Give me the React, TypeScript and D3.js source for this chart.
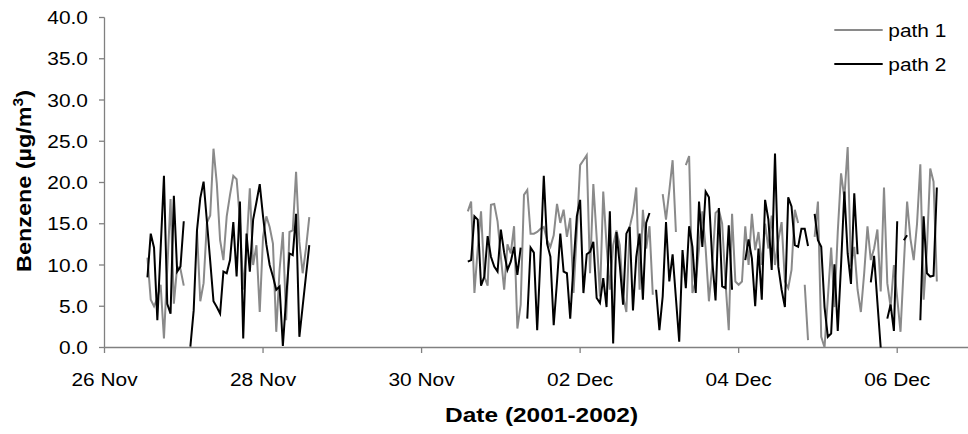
import React from "react";
import * as d3 from "d3";

// ---- data (hourly benzene concentrations, µg/m3) ----
const block1Start = new Date(2001, 10, 26, 13); // 26 Nov 13:00
const block2Start = new Date(2001, 10, 30, 14); // 30 Nov 14:00

const path1Block1: (number | null)[] = [
  10.9, 5.8, 5.0, 6.0, 7.6, 1.1, 9.5, 18.0, 5.3, 9.8,
  9.5, 7.5, null, null, null, 14.2, 5.6, 7.8, 15.1, 16.0,
  24.1, 19.9, 13.0, 10.6, 15.9, 18.5, 20.8, 20.4, 15.5, 7.0,
  12.2, 19.3, 10.0, 12.4, 4.3, 13.4, 15.9, 14.6, 12.6, 1.9,
  9.4, 14.0, 3.3, 14.0, 14.2, 21.3, 12.8, 9.0, 12.0, 15.8,
];

const path2Block1: (number | null)[] = [
  8.5, 13.8, 12.1, 3.3, 12.0, 20.8, 5.3, 4.1, 18.4, 9.2,
  9.8, 15.3, null, 0.1, 4.5, 14.2, 18.1, 20.1, 15.3, 10.5,
  5.6, 4.9, 4.1, 9.2, 9.0, 10.6, 15.2, 8.6, 17.7, 1.1,
  13.8, 9.2, 15.5, 17.6, 19.8, 15.9, 12.5, 10.0, 8.6, 7.0,
  7.4, 0.2, 6.0, 11.4, 11.2, 16.2, 1.3, 5.0, 8.7, 12.4,
];

const path1Block2: (number | null)[] = [
  16.5, 17.7, 6.6, 12.0, 16.5, 8.6, 7.5, 17.3, 17.4, 15.3,
  11.0, 7.0, 12.5, 11.4, 14.7, 2.3, 5.2, 18.5, 19.1, 13.8,
  13.8, 14.0, 14.4, 14.6, 13.0, 12.2, 13.6, 17.4, 15.1, 16.7,
  13.4, 15.7, 6.6, 14.0, 22.1, 22.7, 23.3, 9.0, 19.8, 13.4,
  6.2, 18.9, 12.4, 7.0, 12.4, 14.2, 12.4, 6.2, 4.3, 14.6,
  16.3, 19.4, 7.0, 16.7, 12.0, 14.7, 6.4, null, null, 18.6,
  15.5, 19.0, 22.7, 14.0, null, null, 22.1, 23.2, 6.6, 8.0,
  12.0, 16.5, 12.0, 5.6, 10.0, 16.3, 16.7, 15.0, 8.0, 2.1,
  16.2, 8.0, 7.6, 8.0, 14.7, 10.0, 16.2, 11.8, 14.0, 10.0,
  15.0, 12.0, 16.0, 10.0, 13.0, 15.2, 8.0, 7.2, 9.4, 16.7,
  15.1, null, 7.6, 0.9, null, 13.4, 17.7, 1.3, 0.0, 6.0,
  12.1, 4.9, 14.0, 21.1, 18.1, 24.3, 9.8, 12.2, 7.0, 4.3,
  9.0, 14.7, 10.6, 12.0, 14.3, 6.8, 19.4, 7.8, 4.9, 10.0,
  6.0, 1.9, 10.0, 17.7, 13.2, 10.6, 15.0, 22.2, 5.8, 12.0,
  21.7, 20.1, 8.0,
];

const path2Block2: (number | null)[] = [
  10.4, 10.6, 15.9, 15.5, 7.5, 8.6, 13.5, 11.0, 9.8, 9.2,
  14.3, 11.5, 9.4, 10.4, 12.2, 8.8, 12.1, null, 3.5, 12.1,
  11.5, 2.1, 11.0, 20.8, 12.6, 11.0, 2.7, 8.0, 13.8, 9.2,
  9.0, 3.5, 10.0, 15.9, 17.9, 6.6, 11.3, 11.6, 12.8, 6.0,
  5.4, 8.4, 4.9, 16.5, 0.5, 14.0, 10.0, 5.2, 13.8, 14.6,
  4.5, 11.0, 13.8, 5.8, 15.1, 16.3, null, 7.0, 2.1, 6.2,
  15.2, 8.0, 11.3, 6.0, 0.7, 11.8, 7.2, 14.7, 12.2, 6.6,
  17.7, 12.2, 18.9, 18.2, 10.6, 5.7, 16.9, 7.4, 7.2, 14.8,
  7.0, null, null, null, 10.6, 13.1, 10.8, 5.0, 12.0, 5.8,
  17.9, 15.5, 9.4, 23.5, 9.8, 7.0, 4.9, 18.2, 17.1, 12.4,
  12.2, 14.4, 14.4, 12.3, null, 16.2, 13.0, 12.2, 4.9, 1.3,
  1.7, 10.1, 2.0, 10.0, 18.9, 11.4, 7.7, 18.7, 11.3, null,
  null, null, 7.9, 11.1, 5.5, 0.0, null, 3.5, 5.2, 2.0,
  15.3, null, 13.0, 13.6, null, null, null, 3.3, 15.9, 9.0,
  8.6, 8.7, 19.4,
];

const seriesNames = ["path 1", "path 2"];
const seriesColors = ["#8a8a8a", "#000000"];
const yTickValues = [0, 5, 10, 15, 20, 25, 30, 35, 40];
const xTickDates = [
  new Date(2001, 10, 26),
  new Date(2001, 10, 28),
  new Date(2001, 10, 30),
  new Date(2001, 11, 2),
  new Date(2001, 11, 4),
  new Date(2001, 11, 6),
];
const xTitle = "Date (2001-2002)";

// ---- layout ----
const W = 968;
const H = 434;
const plotLeft = 104.5;
const plotRight = 968;
const plotTop = 17.5;
const plotBottom = 347.5;
const FONT = "'Liberation Sans', Arial, Helvetica, sans-serif";
const STRETCH = 1.13;
const legendRows = [30, 64];

type Pt = { t: Date; v: number | null };
const HOUR = 3600 * 1000;

function buildSeries(blocks: [Date, (number | null)[]][]): Pt[] {
  const out: Pt[] = [];
  blocks.forEach(([start, vals], bi) => {
    if (bi > 0) out.push({ t: new Date(start.getTime() - HOUR), v: null });
    vals.forEach((v, i) => out.push({ t: new Date(start.getTime() + i * HOUR), v }));
  });
  return out;
}

const series1 = buildSeries([[block1Start, path1Block1], [block2Start, path1Block2]]);
const series2 = buildSeries([[block1Start, path2Block1], [block2Start, path2Block2]]);

export default function App() {
  const d0 = new Date(2001, 10, 26);
  const d1 = new Date(d0.getTime() + 10.893 * 24 * HOUR);
  const x = d3.scaleTime().domain([d0, d1]).range([plotLeft, plotRight]);
  const y = d3.scaleLinear().domain([0, 40]).range([plotBottom, plotTop]);
  const line = d3
    .line<Pt>()
    .defined((d) => d.v != null)
    .x((d) => x(d.t))
    .y((d) => y(d.v as number));
  const fmtY = d3.format(".1f");
  const fmtX = d3.timeFormat("%d %b");
  const axisColor = "#808080";

  const all = [series1, series2];

  return (
    <svg
      width={W}
      height={H}
      style={{ position: "absolute", left: 0, top: 0, background: "#fff" }}
      fontFamily={FONT}
    >
      <rect x={0} y={0} width={W} height={H} fill="#fff" />
      {/* axes */}
      <line x1={plotLeft} x2={plotLeft} y1={plotTop} y2={plotBottom} stroke={axisColor} strokeWidth={1.3} />
      <line x1={plotLeft} x2={plotRight} y1={plotBottom} y2={plotBottom} stroke={axisColor} strokeWidth={1.3} />
      {yTickValues.map((v) => (
        <g key={"y" + v}>
          <line x1={plotLeft - 5.5} x2={plotLeft} y1={y(v)} y2={y(v)} stroke={axisColor} strokeWidth={1.3} />
          <text
            transform={`translate(${88},${y(v) + 6.6}) scale(${STRETCH},1)`}
            textAnchor="end"
            fontSize={18.5}
            fill="#000"
          >
            {fmtY(v)}
          </text>
        </g>
      ))}
      {xTickDates.map((d, i) => (
        <g key={"x" + i}>
          <line x1={x(d)} x2={x(d)} y1={plotBottom} y2={plotBottom + 5.5} stroke={axisColor} strokeWidth={1.3} />
          <text
            transform={`translate(${x(d)},${385.7}) scale(${STRETCH},1)`}
            textAnchor="middle"
            fontSize={18.5}
            fill="#000"
          >
            {fmtX(d)}
          </text>
        </g>
      ))}
      {/* titles */}
      <text
        x={541.6}
        y={421.7}
        textAnchor="middle"
        fontSize={20}
        fontWeight="bold"
        textLength={193}
        lengthAdjust="spacingAndGlyphs"
        fill="#000"
      >
        {xTitle}
      </text>
      <text
        transform={`translate(${30.5},${181}) rotate(-90)`}
        textAnchor="middle"
        fontSize={21}
        fontWeight="bold"
        textLength={182}
        lengthAdjust="spacingAndGlyphs"
        fill="#000"
      >
        <tspan>Benzene (µg/m</tspan>
        <tspan fontSize={14} dy={-8}>3</tspan>
        <tspan dy={8}>)</tspan>
      </text>
      {/* series */}
      {all.map((s, i) => (
        <path
          key={"s" + i}
          d={line(s) || ""}
          fill="none"
          stroke={seriesColors[i]}
          strokeWidth={2}
          strokeLinejoin="miter"
          strokeMiterlimit={4}
        />
      ))}
      {/* legend */}
      {seriesNames.map((n, i) => {
        const ly = legendRows[i];
        return (
          <g key={"l" + i}>
            <line x1={834.3} x2={882.7} y1={ly} y2={ly} stroke={seriesColors[i]} strokeWidth={2} />
            <text
              transform={`translate(${888.3},${ly + 6.8}) scale(${STRETCH},1)`}
              fontSize={18.5}
              fill="#000"
            >
              {n}
            </text>
          </g>
        );
      })}
    </svg>
  );
}
